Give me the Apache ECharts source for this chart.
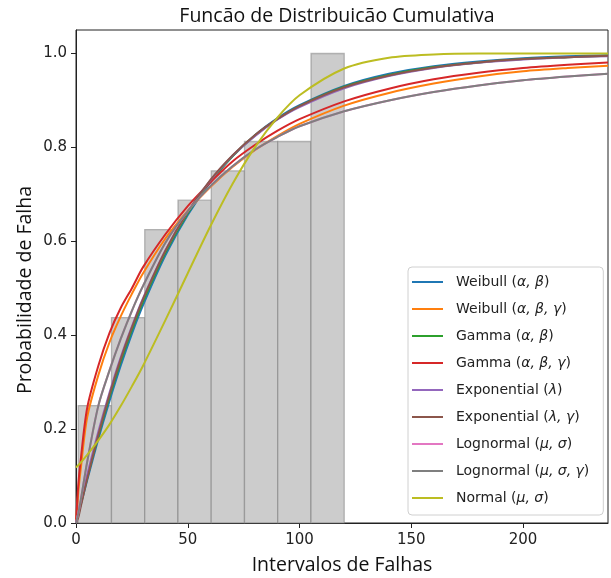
<!DOCTYPE html>
<html>
<head>
<meta charset="utf-8">
<script src="https://cdn.jsdelivr.net/npm/echarts@6/dist/echarts.min.js"></script>
<style>
html,body{margin:0;padding:0;background:#fff;}
#c{width:611px;height:578px;}
</style>
</head>
<body>
<div id="c"></div>
<script>
// ---- data ----
const binEdges = [1, 15.875, 30.75, 45.625, 60.5, 75.375, 90.25, 105.125, 120];
const binHeights = [0.25, 0.4375, 0.625, 0.6875, 0.75, 0.8125, 0.8125, 1.0];

const xs = [0, 1, 2, 5, 10, 15, 20, 25, 30, 40, 50, 60, 70, 80, 90, 100, 120, 140, 160, 180, 200, 220, 238];

const weibull2 = [0, 0.017, 0.036, 0.091, 0.179, 0.260, 0.335, 0.403, 0.464, 0.570, 0.656, 0.725, 0.781, 0.826, 0.862, 0.890, 0.931, 0.957, 0.973, 0.983, 0.990, 0.994, 0.996];
const weibull3 = [0, 0.065, 0.110, 0.225, 0.315, 0.385, 0.440, 0.488, 0.532, 0.606, 0.665, 0.715, 0.758, 0.794, 0.824, 0.850, 0.889, 0.916, 0.936, 0.951, 0.962, 0.969, 0.974];
const gamma2 = [0, 0.019, 0.038, 0.096, 0.186, 0.269, 0.344, 0.411, 0.472, 0.576, 0.660, 0.727, 0.781, 0.825, 0.860, 0.888, 0.929, 0.954, 0.971, 0.981, 0.988, 0.992, 0.995];
const gamma3 = [0, 0.080, 0.130, 0.245, 0.335, 0.405, 0.458, 0.500, 0.545, 0.615, 0.675, 0.725, 0.770, 0.805, 0.835, 0.860, 0.898, 0.925, 0.945, 0.959, 0.969, 0.976, 0.981];
const expo1 = [0, 0.021, 0.043, 0.103, 0.195, 0.278, 0.353, 0.419, 0.479, 0.581, 0.663, 0.729, 0.782, 0.824, 0.859, 0.886, 0.926, 0.952, 0.969, 0.980, 0.987, 0.992, 0.994];
const expo2 = [0, 0.011, 0.032, 0.094, 0.188, 0.273, 0.349, 0.416, 0.477, 0.580, 0.663, 0.730, 0.783, 0.826, 0.860, 0.888, 0.928, 0.953, 0.970, 0.981, 0.988, 0.992, 0.995];
const lognorm2 = [0, 0.020, 0.045, 0.130, 0.250, 0.325, 0.392, 0.452, 0.505, 0.597, 0.664, 0.717, 0.760, 0.795, 0.822, 0.845, 0.877, 0.900, 0.918, 0.932, 0.943, 0.951, 0.957];
const lognorm3 = [0, 0.020, 0.045, 0.130, 0.250, 0.325, 0.392, 0.452, 0.505, 0.597, 0.664, 0.717, 0.760, 0.795, 0.822, 0.845, 0.877, 0.900, 0.918, 0.932, 0.943, 0.951, 0.957];
const normal2 = [0.118, 0.123, 0.128, 0.145, 0.176, 0.210, 0.249, 0.291, 0.335, 0.432, 0.532, 0.631, 0.722, 0.800, 0.863, 0.911, 0.968, 0.991, 0.998, 1.0, 1.0, 1.0, 1.0];

const seriesNames = [
  'Weibull (α, β)', 'Weibull (α, β, γ)', 'Gamma (α, β)', 'Gamma (α, β, γ)',
  'Exponential (λ)', 'Exponential (λ, γ)', 'Lognormal (μ, σ)', 'Lognormal (μ, σ, γ)', 'Normal (μ, σ)'
];
const seriesValues = [weibull2, weibull3, gamma2, gamma3, expo1, expo2, lognorm2, lognorm3, normal2];
const colors = ['#1f77b4', '#ff7f0e', '#2ca02c', '#d62728', '#9467bd', '#8c564b', '#e377c2', '#7f7f7f', '#bcbd22'];

const xTicks = [0, 50, 100, 150, 200];
const yTicks = [0, 0.2, 0.4, 0.6, 0.8, 1.0];

const titleText = 'Funcão de Distribuicão Cumulativa';
const xName = 'Intervalos de Falhas';
const yName = 'Probabilidade de Falha';

// ---- chart ----
const chart = echarts.init(document.getElementById('c'), null, {renderer: 'canvas'});

const histData = binHeights.map((h, i) => [binEdges[i], binEdges[i + 1], h]);

const lineSeries = seriesNames.map((name, k) => ({
  type: 'line',
  name: name,
  data: xs.map((x, i) => [x, seriesValues[k][i]]),
  symbol: 'none',
  smooth: 0.3,
  lineStyle: {color: colors[k], width: 2},
  itemStyle: {color: colors[k]},
  z: 3 + k,
  animation: false
}));

const labelFont = '"Open Sans", sans-serif';

chart.setOption({
  animation: false,
  backgroundColor: '#fff',
  graphic: [{
    type: 'text',
    x: 337, y: 16,
    style: {
      text: titleText,
      align: 'center', verticalAlign: 'middle',
      font: '19.5px "Open Sans", sans-serif',
      fill: '#111'
    }
  }, {
    type: 'text',
    x: 25, y: 290,
    rotation: Math.PI / 2,
    style: {
      text: yName,
      align: 'center', verticalAlign: 'middle',
      font: '19.5px "Open Sans", sans-serif',
      fill: '#111'
    }
  }, {
    type: 'text',
    x: 342, y: 565,
    style: {
      text: xName,
      align: 'center', verticalAlign: 'middle',
      font: '19.5px "Open Sans", sans-serif',
      fill: '#111'
    }
  }],
  grid: {
    left: 76, right: 3, top: 30, bottom: 55,
    containLabel: false, outerBoundsMode: 'none',
    show: true, borderColor: '#222', borderWidth: 1, backgroundColor: 'transparent'
  },
  legend: {
    orient: 'vertical',
    left: 408, top: 267,
    padding: [8, 14, 10, 4],
    icon: 'rect',
    itemWidth: 31, itemHeight: 2, itemGap: 13,
    backgroundColor: 'rgba(255,255,255,0.85)',
    borderColor: '#d0d0d0', borderWidth: 1, borderRadius: 4,
    data: seriesNames,
    formatter: function (name) {
      const m = name.match(/^(.*?)\((.*)\)$/);
      return '{n|' + m[1] + '(}{g|' + m[2] + '}{n|)}';
    },
    textStyle: {
      padding: [0, 0, 0, 8],
      rich: {
        n: {fontFamily: '"DejaVu Sans", sans-serif', fontSize: 14, color: '#222'},
        g: {fontFamily: '"DejaVu Sans", sans-serif', fontSize: 14, fontStyle: 'italic', color: '#222'}
      }
    }
  },
  xAxis: {
    type: 'value', min: 0, max: 238,
    axisLine: {show: true, onZero: false, lineStyle: {color: '#222', width: 1}},
    axisTick: {show: true, length: 5, lineStyle: {color: '#222'}, customValues: xTicks},
    axisLabel: {fontFamily: '"DejaVu Sans", sans-serif', fontSize: 15, color: '#222', margin: 10, customValues: xTicks},
    splitLine: {show: false}
  },
  yAxis: {
    type: 'value', min: 0, max: 1.05,
    axisLine: {show: true, onZero: false, lineStyle: {color: '#222', width: 1}},
    axisTick: {show: true, length: 5, lineStyle: {color: '#222'}, customValues: yTicks},
    axisLabel: {fontFamily: '"DejaVu Sans", sans-serif', fontSize: 15, color: '#222', margin: 9,
      customValues: yTicks, formatter: v => v.toFixed(1)},
    splitLine: {show: false}
  },
  series: [{
    type: 'custom',
    name: 'hist',
    data: histData,
    encode: {x: [0, 1], y: 2},
    z: 1,
    renderItem: function (params, api) {
      const p0 = api.coord([api.value(0), api.value(2)]);
      const p1 = api.coord([api.value(1), 0]);
      return {
        type: 'rect',
        shape: {x: p0[0], y: p0[1], width: p1[0] - p0[0], height: p1[1] - p0[1]},
        style: {fill: '#cccccc', stroke: 'rgba(110,110,110,0.45)', lineWidth: 1.3}
      };
    }
  }].concat(lineSeries)
});
</script>
</body>
</html>
